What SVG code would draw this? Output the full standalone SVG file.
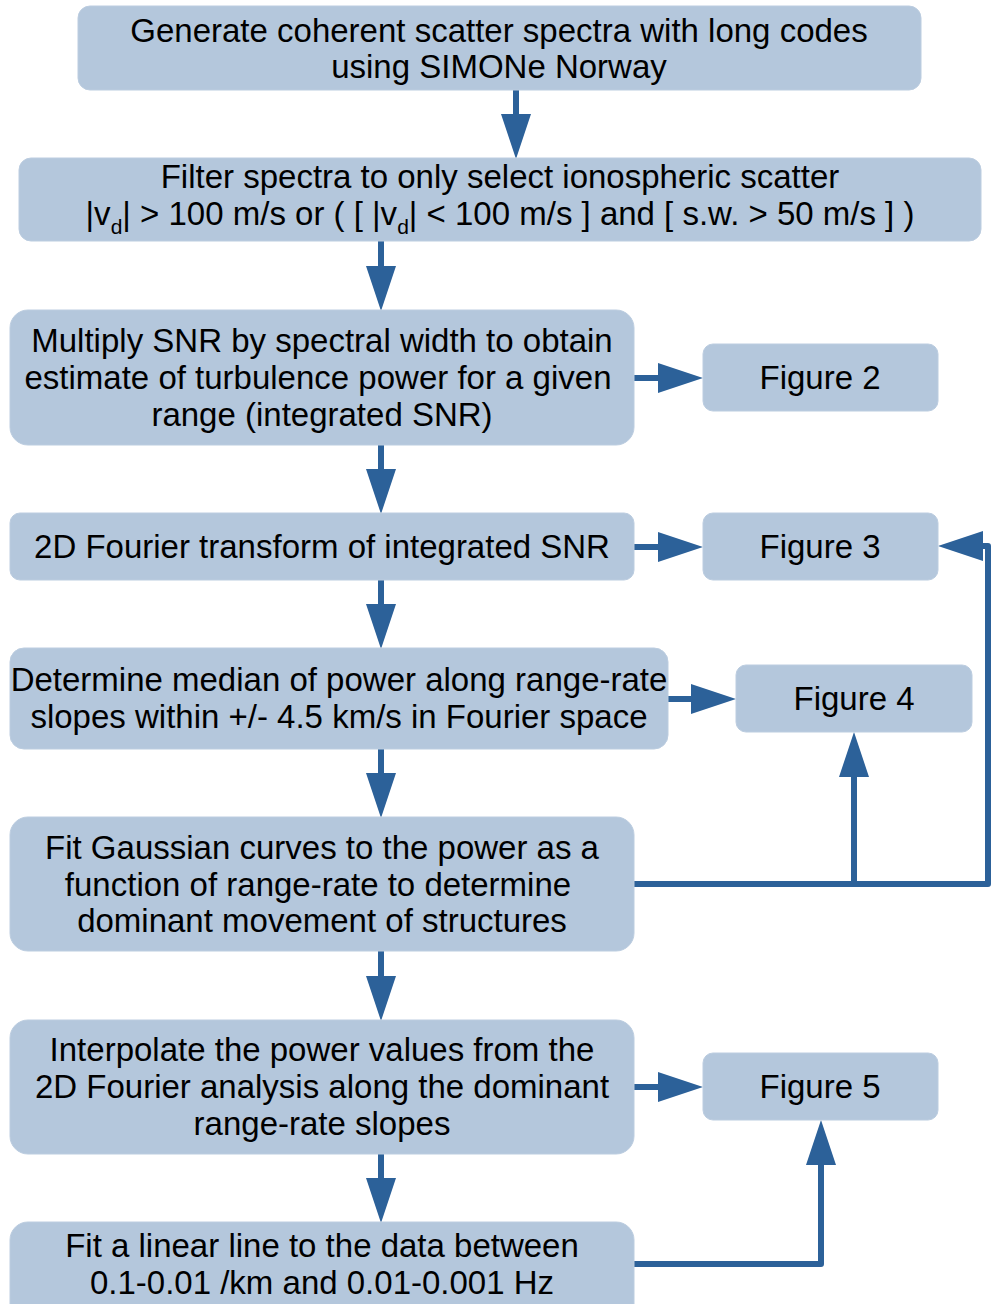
<svg xmlns="http://www.w3.org/2000/svg" width="996" height="1304" viewBox="0 0 996 1304">
<style>
.box{fill:#b4c7dc;stroke:#bccde0;stroke-width:1}
.t{font-family:"Liberation Sans",Arial,sans-serif;font-size:33px;fill:#000;text-anchor:middle}
.sub{font-size:21px}
.c{fill:none;stroke:#2c6199;stroke-width:6;stroke-linejoin:round;marker-end:url(#ah)}
</style>
<defs>
<marker id="ah" markerUnits="userSpaceOnUse" markerWidth="46" markerHeight="32" refX="0" refY="15" orient="auto" viewBox="0 0 46 30">
<path d="M0,0 L45,15 L0,30 z" fill="#2c6199"/>
</marker>
</defs>
<rect width="996" height="1304" fill="#fff"/>
<g id="connectors">
<path class="c" d="M516,90 V114"/>
<path class="c" d="M381,241 V266"/>
<path class="c" d="M381,445 V469"/>
<path class="c" d="M381,580 V604"/>
<path class="c" d="M381,749 V773"/>
<path class="c" d="M381,951 V976"/>
<path class="c" d="M381,1154 V1178"/>
<path class="c" d="M634,378 H658"/>
<path class="c" d="M634,547 H658"/>
<path class="c" d="M668,699 H691"/>
<path class="c" d="M634,1087 H658"/>
<path class="c" d="M634,884 H988 V546 H983"/>
<path class="c" d="M854,884 V777"/>
<path class="c" d="M634,1264 H821 V1165"/>
</g>
<g id="n1"><rect class="box" x="78" y="6" width="843" height="84" rx="12"/>
<text class="t" x="499" y="42">Generate coherent scatter spectra with long codes</text>
<text class="t" x="499" y="78">using SIMONe Norway</text></g>
<g id="n2"><rect class="box" x="19" y="158" width="962" height="83" rx="12"/>
<text class="t" x="500" y="188">Filter spectra to only select ionospheric scatter</text>
<text class="t" x="500" y="225">|v<tspan class="sub" dy="9">d</tspan><tspan dy="-9">| &gt; 100 m/s or ( [ |v</tspan><tspan class="sub" dy="9">d</tspan><tspan dy="-9">| &lt; 100 m/s ] and [ s.w. &gt; 50 m/s ] )</tspan></text></g>
<g id="n3"><rect class="box" x="10" y="310" width="624" height="135" rx="18"/>
<text class="t" x="322" y="352">Multiply SNR by spectral width to obtain</text>
<text class="t" x="318" y="389">estimate of turbulence power for a given</text>
<text class="t" x="322" y="426">range (integrated SNR)</text></g>
<g id="n4"><rect class="box" x="10" y="513" width="624" height="67" rx="10"/>
<text class="t" x="322" y="558">2D Fourier transform of integrated SNR</text></g>
<g id="n5"><rect class="box" x="10" y="648" width="658" height="101" rx="14"/>
<text class="t" x="339" y="691">Determine median of power along range-rate</text>
<text class="t" x="339" y="728">slopes within +/- 4.5 km/s in Fourier space</text></g>
<g id="n6"><rect class="box" x="10" y="817" width="624" height="134" rx="18"/>
<text class="t" x="322" y="859">Fit Gaussian curves to the power as a</text>
<text class="t" x="318" y="896">function of range-rate to determine</text>
<text class="t" x="322" y="932">dominant movement of structures</text></g>
<g id="n7"><rect class="box" x="10" y="1020" width="624" height="134" rx="18"/>
<text class="t" x="322" y="1061">Interpolate the power values from the</text>
<text class="t" x="322" y="1098">2D Fourier analysis along the dominant</text>
<text class="t" x="322" y="1135">range-rate slopes</text></g>
<g id="n8"><rect class="box" x="10" y="1222" width="624" height="100" rx="18"/>
<text class="t" x="322" y="1257">Fit a linear line to the data between</text>
<text class="t" x="322" y="1294">0.1-0.01 /km and 0.01-0.001 Hz</text></g>
<g id="f2"><rect class="box" x="703" y="344" width="235" height="67" rx="10"/>
<text class="t" x="820" y="389">Figure 2</text></g>
<g id="f3"><rect class="box" x="703" y="513" width="235" height="67" rx="10"/>
<text class="t" x="820" y="558">Figure 3</text></g>
<g id="f4"><rect class="box" x="736" y="665" width="236" height="67" rx="10"/>
<text class="t" x="854" y="710">Figure 4</text></g>
<g id="f5"><rect class="box" x="703" y="1053" width="235" height="67" rx="10"/>
<text class="t" x="820" y="1098">Figure 5</text></g>
</svg>
